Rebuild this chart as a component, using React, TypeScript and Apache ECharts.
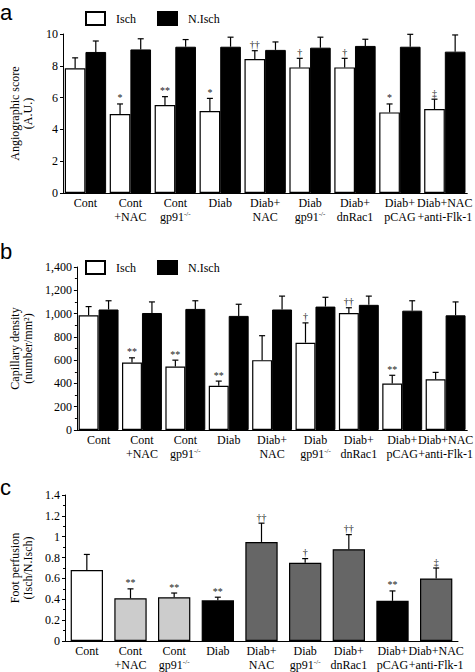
import { useEffect, useRef } from 'react';
import * as echarts from 'echarts';

const SERIF = "'Liberation Serif', 'Times New Roman', serif";
const SANS = "'Liberation Sans', Arial, sans-serif";

const categories = [
  'Cont',
  'Cont\n+NAC',
  'Cont\ngp91-/-',
  'Diab',
  'Diab+\nNAC',
  'Diab\ngp91-/-',
  'Diab+\ndnRac1',
  'Diab+\npCAG',
  'Diab+NAC\n+anti-Flk-1',
];
const seriesNames = ['Isch', 'N.Isch'];

// Panel a: angiographic score
const aIsch = [7.85, 4.97, 5.53, 5.16, 8.43, 7.9, 7.9, 5.07, 5.28];
const aIschErr = [8.5, 5.6, 6.06, 5.95, 8.95, 8.47, 8.47, 5.6, 5.9];
const aNIsch = [8.87, 9.03, 9.2, 9.2, 9.0, 9.14, 9.25, 9.2, 8.89];
const aNIschErr = [9.56, 9.7, 9.65, 9.8, 9.5, 9.8, 9.67, 9.98, 9.94];
const aNotes = ['', '*', '**', '*', '††', '†', '†', '*', '‡'];

// Panel b: capillary density
const bIsch = [985, 580, 545, 380, 600, 750, 1005, 400, 435];
const bIschErr = [1060, 620, 600, 420, 810, 920, 1050, 470, 495];
const bNIsch = [1035, 1005, 1040, 980, 1035, 1060, 1075, 1025, 985];
const bNIschErr = [1110, 1100, 1110, 1080, 1150, 1140, 1150, 1110, 1100];
const bNotes = ['', '**', '**', '**', '', '†', '††', '**', ''];

// Panel c: foot perfusion
const cValues = [0.68, 0.41, 0.42, 0.39, 0.95, 0.75, 0.88, 0.385, 0.6];
const cErr = [0.83, 0.5, 0.46, 0.42, 1.13, 0.79, 1.02, 0.48, 0.7];
const cColors = ['#ffffff', '#cccccc', '#cccccc', '#000000', '#666666', '#666666', '#666666', '#000000', '#666666'];
const cNotes = ['', '**', '**', '**', '††', '†', '††', '**', '‡'];

const GAP_AB = 0.08;
const GAP_C = 0.26;

function errSeries(
  axisIndex: number,
  vals: number[],
  errs: number[],
  side: number,
  nBars: number,
  gap: number,
  notes: string[] | null
) {
  return {
    type: 'custom',
    xAxisIndex: axisIndex,
    yAxisIndex: axisIndex,
    z: 5,
    clip: false,
    silent: true,
    data: vals.map((v, i) => [i, v, errs[i]]),
    encode: { x: 0, y: [1, 2] },
    renderItem: (params: any, api: any) => {
      const cat = api.value(0);
      const v = api.value(1);
      const e = api.value(2);
      const band = api.size([1, 0])[0];
      const barW = (band * (1 - gap)) / nBars;
      const p0 = api.coord([cat, v]);
      const p1 = api.coord([cat, e]);
      const x = p0[0] + (side * barW) / 2;
      const cap = 3;
      const lineStyle = { stroke: '#000', lineWidth: 1.2 };
      const children: any[] = [
        { type: 'line', shape: { x1: x, y1: p0[1], x2: x, y2: p1[1] }, style: lineStyle },
        { type: 'line', shape: { x1: x - cap, y1: p1[1], x2: x + cap, y2: p1[1] }, style: lineStyle },
      ];
      const note = notes ? notes[params.dataIndex] : '';
      if (note) {
        children.push({
          type: 'text',
          x,
          y: p1[1] - 1,
          style: {
            text: note,
            align: 'center',
            verticalAlign: 'bottom',
            fontSize: 10,
            fontFamily: SERIF,
            fill: '#222',
          },
        });
      }
      return { type: 'group', children };
    },
  };
}

const catLabel = {
  interval: 0,
  fontSize: 12,
  fontFamily: SERIF,
  color: '#000',
  lineHeight: 14,
  margin: 3,
  formatter: (v: string) => v.replace('-/-', '{sup|-/-}'),
  rich: {
    sup: { fontSize: 7, fontFamily: SERIF, color: '#000', verticalAlign: 'top', lineHeight: 14 },
  },
};

function xAxisDef(gridIndex: number) {
  return {
    type: 'category',
    gridIndex,
    data: categories,
    axisLine: { show: true, lineStyle: { color: '#000', width: 1 } },
    axisTick: { show: false },
    axisLabel: catLabel,
  };
}

function yAxisDef(gridIndex: number, max: number, interval: number, name: string, nameGap: number, minor: boolean, fmt?: (v: number) => string) {
  return {
    type: 'value',
    gridIndex,
    min: 0,
    max,
    interval,
    name,
    nameLocation: 'middle',
    nameRotate: 90,
    nameGap,
    nameTextStyle: { fontSize: 12, fontFamily: SERIF, color: '#000', lineHeight: 13 },
    axisLine: { show: true, lineStyle: { color: '#000', width: 1 } },
    axisTick: { show: true, length: 3, lineStyle: { color: '#000' } },
    minorTick: { show: minor, splitNumber: 2, length: 2, lineStyle: { color: '#000' } },
    splitLine: { show: false },
    axisLabel: {
      fontSize: 12,
      fontFamily: SERIF,
      color: '#000',
      margin: 5,
      formatter: fmt,
    },
  };
}

const legendDef = (top: number) => ({
  data: seriesNames,
  left: 80,
  top,
  icon: 'rect',
  itemWidth: 19,
  itemHeight: 13,
  itemGap: 21,
  selectedMode: false,
  textStyle: { fontSize: 12, fontFamily: SERIF, color: '#000', padding: [0, 0, 0, 6] },
});

const whiteBar = { color: '#ffffff', borderColor: '#000', borderWidth: 1.2 };
const blackBar = { color: '#000000', borderColor: '#000', borderWidth: 1 };

const letterStyle = (text: string) => ({ text, fontSize: 22, lineHeight: 14, fontFamily: SANS, fill: '#000' });

export default function App() {
  const ref = useRef<HTMLDivElement>(null);

  useEffect(() => {
    if (!ref.current) return;
    const chart = echarts.init(ref.current, undefined, { renderer: 'svg' });
    const option: any = {
      animation: false,
      backgroundColor: '#ffffff',
      textStyle: { fontFamily: SERIF },
      legend: [legendDef(6), legendDef(255)],
      grid: [
        { left: 55, right: 6, top: 34, height: 159 },
        { left: 55, right: 6, top: 267, height: 163 },
        { left: 54, right: 17, top: 495, height: 148 },
      ],
      xAxis: [xAxisDef(0), xAxisDef(1), xAxisDef(2)],
      yAxis: [
        yAxisDef(0, 10, 2, 'Angiographic score\n(A.U.)', 29, false),
        yAxisDef(1, 1400, 200, 'Capillary density\n(number/mm²)', 31, true, (v: number) => v.toLocaleString('en-US')),
        yAxisDef(2, 1.4, 0.2, 'Foot perfusion\n(Isch/N.Isch)', 31, true, (v: number) => String(Math.round(v * 10) / 10)),
      ],
      graphic: [
        { type: 'text', left: 0, top: 1, style: letterStyle('a') },
        { type: 'text', left: 0, top: 240, style: letterStyle('b') },
        { type: 'text', left: 0, top: 476, style: letterStyle('c') },
      ],
      series: [
        { name: 'Isch', type: 'bar', xAxisIndex: 0, yAxisIndex: 0, data: aIsch, itemStyle: whiteBar, barGap: '0%', barCategoryGap: `${GAP_AB * 100}%` },
        { name: 'N.Isch', type: 'bar', xAxisIndex: 0, yAxisIndex: 0, data: aNIsch, itemStyle: blackBar, barGap: '0%', barCategoryGap: `${GAP_AB * 100}%` },
        errSeries(0, aIsch, aIschErr, -1, 2, GAP_AB, aNotes),
        errSeries(0, aNIsch, aNIschErr, 1, 2, GAP_AB, null),

        { name: 'Isch', type: 'bar', xAxisIndex: 1, yAxisIndex: 1, data: bIsch, itemStyle: whiteBar, barGap: '0%', barCategoryGap: `${GAP_AB * 100}%` },
        { name: 'N.Isch', type: 'bar', xAxisIndex: 1, yAxisIndex: 1, data: bNIsch, itemStyle: blackBar, barGap: '0%', barCategoryGap: `${GAP_AB * 100}%` },
        errSeries(1, bIsch, bIschErr, -1, 2, GAP_AB, bNotes),
        errSeries(1, bNIsch, bNIschErr, 1, 2, GAP_AB, null),

        {
          name: 'Foot perfusion',
          type: 'bar',
          xAxisIndex: 2,
          yAxisIndex: 2,
          barCategoryGap: `${GAP_C * 100}%`,
          data: cValues.map((v, i) => ({ value: v, itemStyle: { color: cColors[i], borderColor: '#000', borderWidth: 1.2 } })),
        },
        errSeries(2, cValues, cErr, 0, 1, GAP_C, cNotes),
      ],
    };
    chart.setOption(option);
    return () => chart.dispose();
  }, []);

  return (
    <div
      ref={ref}
      style={{ position: 'absolute', left: 0, top: 0, width: 475, height: 672, background: '#fff' }}
    />
  );
}
